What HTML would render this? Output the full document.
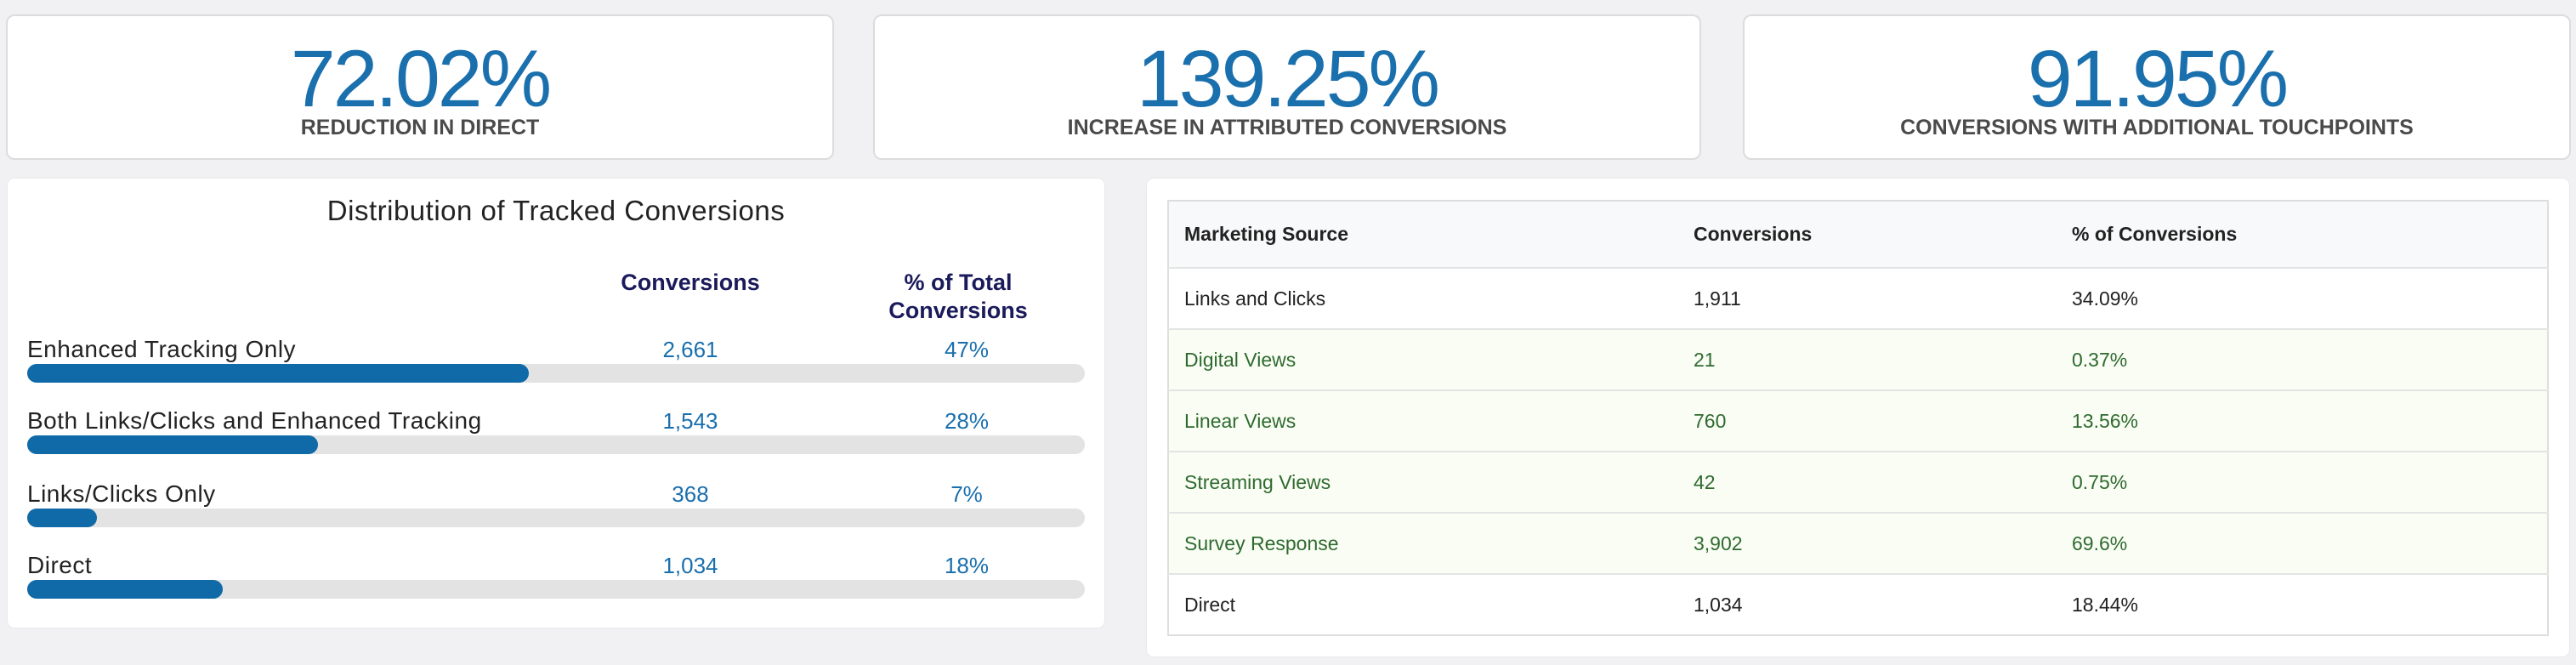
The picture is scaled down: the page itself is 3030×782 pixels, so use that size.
<!DOCTYPE html>
<html><head><meta charset="utf-8"><style>
*{margin:0;padding:0;box-sizing:border-box}
body{width:3030px;height:782px;background:#f1f1f3;position:relative;font-family:"Liberation Sans",sans-serif;overflow:hidden}
.card{position:absolute;top:17px;height:171px;width:974px;background:#fff;border:2px solid #dcdcdc;border-radius:10px;text-align:center}
.num{position:absolute;left:0;right:0;top:19px;font-size:95px;line-height:110px;color:#1a6fad;font-weight:300;letter-spacing:-3px}
.lbl{position:absolute;left:0;right:0;top:116px;font-size:25px;font-weight:bold;color:#4a4a4a;line-height:30px}
.panel{position:absolute;background:#fff;border-radius:8px;box-shadow:0 0 2px #ddd}
.abs{position:absolute}
.t{font-size:28px;color:#222;line-height:30px;letter-spacing:0.5px}
.bl{font-size:26px;color:#1a6fad;width:200px;text-align:center;line-height:30px}
.track{position:absolute;left:32px;width:1244px;height:22px;background:#e3e3e3;border-radius:11px}
.fill{height:22px;background:#106aa8;border-radius:11px}
table{position:absolute;left:1373px;top:235px;width:1625px;border-collapse:collapse;border:2px solid #dedede;font-size:23px}
td{height:72px;border-top:2px solid #e4e4e4;padding-left:18px;color:#222}
th{height:79px;text-align:left;padding-left:18px;background:#f8f9fa;color:#222;font-size:23px}
tr.g td{background:#f9fdf4;color:#2f6a2f}
</style></head><body>
<div class="card" style="left:7px"><div class="num">72.02%</div><div class="lbl">REDUCTION IN DIRECT</div></div>
<div class="card" style="left:1027px"><div class="num">139.25%</div><div class="lbl">INCREASE IN ATTRIBUTED CONVERSIONS</div></div>
<div class="card" style="left:2050px"><div class="num">91.95%</div><div class="lbl">CONVERSIONS WITH ADDITIONAL TOUCHPOINTS</div></div>

<div class="panel" style="left:9px;top:210px;width:1290px;height:528px"></div>
<div class="abs" style="left:9px;width:1290px;top:229px;text-align:center;font-size:33px;letter-spacing:0.5px;color:#222">Distribution of Tracked Conversions</div>
<div class="abs" style="left:662px;width:300px;top:316px;text-align:center;font-size:27px;font-weight:bold;color:#1b1b5c;line-height:32px">Conversions</div>
<div class="abs" style="left:977px;width:300px;top:316px;text-align:center;font-size:27px;font-weight:bold;color:#1b1b5c;line-height:33px">% of Total<br>Conversions</div>

<div class="abs t" style="left:32px;top:396px">Enhanced Tracking Only</div>
<div class="abs bl" style="left:712px;top:396px">2,661</div><div class="abs bl" style="left:1037px;top:396px">47%</div>
<div class="track" style="top:428px"><div class="fill" style="width:590px"></div></div>

<div class="abs t" style="left:32px;top:480px">Both Links/Clicks and Enhanced Tracking</div>
<div class="abs bl" style="left:712px;top:480px">1,543</div><div class="abs bl" style="left:1037px;top:480px">28%</div>
<div class="track" style="top:512px"><div class="fill" style="width:342px"></div></div>

<div class="abs t" style="left:32px;top:566px">Links/Clicks Only</div>
<div class="abs bl" style="left:712px;top:566px">368</div><div class="abs bl" style="left:1037px;top:566px">7%</div>
<div class="track" style="top:598px"><div class="fill" style="width:82px"></div></div>

<div class="abs t" style="left:32px;top:650px">Direct</div>
<div class="abs bl" style="left:712px;top:650px">1,034</div><div class="abs bl" style="left:1037px;top:650px">18%</div>
<div class="track" style="top:682px"><div class="fill" style="width:230px"></div></div>

<div class="panel" style="left:1349px;top:210px;width:1673px;height:562px"></div>
<table>
<colgroup><col style="width:600px"><col style="width:445px"><col></colgroup>
<tr><th>Marketing Source</th><th>Conversions</th><th>% of Conversions</th></tr>
<tr><td>Links and Clicks</td><td>1,911</td><td>34.09%</td></tr>
<tr class="g"><td>Digital Views</td><td>21</td><td>0.37%</td></tr>
<tr class="g"><td>Linear Views</td><td>760</td><td>13.56%</td></tr>
<tr class="g"><td>Streaming Views</td><td>42</td><td>0.75%</td></tr>
<tr class="g"><td>Survey Response</td><td>3,902</td><td>69.6%</td></tr>
<tr><td>Direct</td><td>1,034</td><td>18.44%</td></tr>
</table>
</body></html>
